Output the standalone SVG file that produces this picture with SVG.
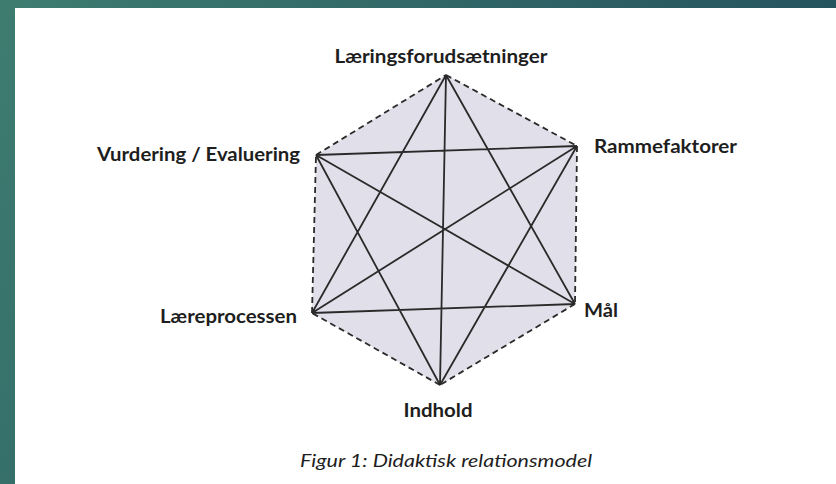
<svg xmlns="http://www.w3.org/2000/svg" width="836" height="484" viewBox="0 0 836 484">
<defs>
<linearGradient id="bg" x1="0" y1="0" x2="1" y2="0.3">
<stop offset="0" stop-color="#3e7c70"/>
<stop offset="1" stop-color="#23505d"/>
</linearGradient>
<style>
.lbl{font-family:Lato,"Open Sans","Liberation Sans",sans-serif;font-weight:bold;font-size:19px;fill:#1e1e1e}
.cap{font-family:Lato,"Open Sans","Liberation Sans",sans-serif;font-style:italic;font-size:16.5px;fill:#1e1e1e}
.side{stroke:#2a2a2a;stroke-width:1.8;stroke-dasharray:6 4;fill:none}
.diag{stroke:#2a2a2a;stroke-width:1.8;fill:none}
</style>
</defs>
<rect width="836" height="484" fill="url(#bg)"/>
<rect x="15" y="8" width="821" height="476" fill="#ffffff"/>
<polygon points="446,75 577,146 575,304 440,385 312,313 316,155" fill="#e1dfe9"/>
<g id="connectors">
<path class="side" d="M446,75 L577,146 M577,146 L575,304 M575,304 L440,385 M440,385 L312,313 M312,313 L316,155 M316,155 L446,75"/>
<path class="diag" d="M316,155 L577,146 M312,313 L575,304 M446,75 L440,385 M446,75 L312,313 M446,75 L575,304 M440,385 L316,155 M440,385 L577,146 M316,155 L575,304 M312,313 L577,146"/>
</g>
<g id="laeringsforudsaetninger"><text class="lbl" x="441" y="63" text-anchor="middle" textLength="213" lengthAdjust="spacingAndGlyphs">Læringsforudsætninger</text></g>
<g id="rammefaktorer"><text class="lbl" x="594" y="153" textLength="143" lengthAdjust="spacingAndGlyphs">Rammefaktorer</text></g>
<g id="maal"><text class="lbl" x="584" y="317" textLength="34" lengthAdjust="spacingAndGlyphs">Mål</text></g>
<g id="indhold"><text class="lbl" x="438" y="417" text-anchor="middle" textLength="69" lengthAdjust="spacingAndGlyphs">Indhold</text></g>
<g id="laereprocessen"><text class="lbl" x="297" y="323" text-anchor="end" textLength="137" lengthAdjust="spacingAndGlyphs">Læreprocessen</text></g>
<g id="vurdering"><text class="lbl" x="300" y="161" text-anchor="end" textLength="203" lengthAdjust="spacingAndGlyphs">Vurdering / Evaluering</text></g>
<text class="cap" x="446" y="467" text-anchor="middle" textLength="292" lengthAdjust="spacingAndGlyphs">Figur 1: Didaktisk relationsmodel</text>
</svg>
